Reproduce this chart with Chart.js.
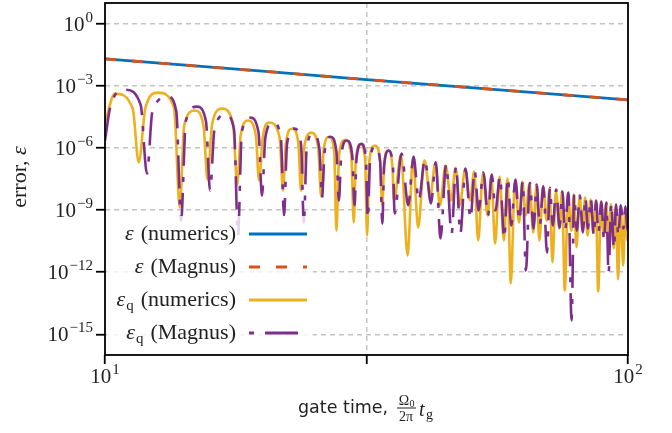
<!DOCTYPE html>
<html>
<head>
<meta charset="utf-8">
<script src="https://cdn.jsdelivr.net/npm/chart.js@4.4.1/dist/chart.umd.min.js"></script>
<style>
    body { margin: 0; background: #fff; }
    #wrap { width: 672px; height: 433px; }
</style>
</head>
<body>
<div id="wrap"><canvas id="mycanvas" width="672" height="433"></canvas></div>
<script>
// gate infidelity eps, full numerics vs Magnus expansion
const tEps = [10, 20, 31.6, 50, 100];
const epsNumerics = [2.0e-2, 5.1e-3, 2.0e-3, 8.2e-4, 2.1e-4];
const epsMagnus = [2.0e-2, 5.1e-3, 2.0e-3, 8.2e-4, 2.1e-4];

// eps_q, numerics: dips, shoulders and lobe tops
const tQNumerics = [10.0, 10.45, 11.3, 11.6, 11.95, 12.63, 13.55, 13.9, 14.17, 14.86, 15.43,
    15.7, 16.03, 16.74, 17.57, 17.9, 18.17, 18.77, 19.43, 19.7, 20.03, 20.6, 21.57,
    21.9, 22.17, 22.8, 23.43, 23.7, 24.03, 24.8, 25.57, 25.9, 26.17, 26.8, 27.43,
    27.7, 28.03, 28.8, 29.57, 29.9, 30.17, 30.8, 31.43, 31.7, 32.03, 32.8, 33.57,
    33.9, 34.17, 34.8, 35.43, 35.7, 36.8, 37.9, 38.8, 39.7, 40.8, 41.9, 42.8, 43.7,
    44.8, 45.9, 46.8, 47.7, 48.8, 49.9, 50.8, 51.7, 52.8, 53.9, 54.8, 55.7, 56.8,
    57.9, 58.8, 59.7, 60.8, 61.9, 62.8, 63.7, 64.8, 65.9, 66.8, 67.7, 68.8, 69.9,
    70.8, 71.7, 72.8, 73.9, 74.8, 75.7, 76.8, 77.9, 78.8, 79.7, 80.8, 81.9, 82.8,
    83.7, 84.8, 85.9, 86.8, 87.7, 88.8, 89.9, 90.8, 91.7, 92.8, 93.9, 94.8, 95.7,
    96.8, 97.9, 98.8, 99.7, 100];
const epsQNumerics = [1.7e-5, 4.2e-4, 7.9e-5,
    2.0e-7, 8.9e-5, 4.7e-4, 8.9e-5,
    1.3e-9, 1.2e-5, 6.4e-5, 1.2e-5,
    3.0e-8, 1.5e-5, 7.9e-5, 1.5e-5,
    1.7e-8, 4.0e-6, 2.1e-5, 4.0e-6,
    2.7e-8, 3.2e-6, 1.7e-5, 3.2e-6,
    8.8e-9, 1.6e-6, 8.6e-6, 1.6e-6,
    8.8e-9, 1.0e-6, 5.5e-6, 1.0e-6,
    4.5e-9, 6.7e-7, 3.5e-6, 6.7e-7,
    1.0e-10, 4.8e-7, 2.5e-6, 4.8e-7,
    2.5e-10, 2.7e-7, 1.5e-6, 2.7e-7,
    5.9e-11, 2.5e-7, 1.3e-6, 2.5e-7,
    1.7e-9, 1.4e-7, 7.5e-7, 1.4e-7,
    2.9e-9, 4.8e-7, 6.4e-12, 3.4e-7, 1.4e-10, 2.5e-7, 5.0e-9, 1.8e-7, 1.7e-9,
    1.4e-7, 2.9e-9, 1.1e-7, 1.7e-9, 9.1e-8, 2.9e-9, 7.3e-8, 3.4e-11, 5.8e-8,
    5.5e-10, 4.7e-8, 2.4e-11, 4.2e-8, 3.4e-11, 3.3e-8, 2.9e-13, 2.7e-8, 2.5e-10,
    2.4e-8, 5.5e-10, 1.9e-8, 8.3e-11, 1.5e-8, 3.4e-11, 1.4e-8, 3.1e-10, 1.1e-8,
    3.0e-12, 8.8e-9, 1.3e-10, 7.9e-9, 1.3e-13, 6.3e-9, 1.0e-10, 5.6e-9, 1.6e-11,
    4.5e-9, 1.0e-10, 4.0e-9, 5.9e-11, 3.2e-9, 8.3e-11, 2.9e-9, 1.2e-13, 2.6e-9,
    5.9e-11, 2.1e-9, 3.4e-11, 1.9e-9, 1.4e-11, 1.7e-9, 4.5e-13, 1.5e-9, 2.1e-12,
    1.3e-9, 3.4e-11, 7.6e-10];

// eps_q, Magnus
const tQMagnus = [10.0, 10.25, 10.92, 11.7, 12.03, 12.32, 13.2, 13.69, 13.98, 14.27, 14.99,
    15.6, 15.88, 16.19, 17.0, 17.65, 17.96, 18.26, 18.95, 19.66, 19.96, 20.26, 20.96,
    21.69, 21.99, 22.29, 23.0, 23.7, 24.0, 24.3, 25.0, 25.7, 26.0, 26.3, 27.0, 27.7,
    28.0, 28.3, 29.0, 29.7, 30.0, 30.27, 30.9, 31.53, 31.8, 32.12, 32.85, 33.58, 33.9,
    34.18, 34.85, 35.52, 35.8, 36.9, 38.0, 38.9, 39.8, 40.9, 42.0, 42.9, 43.8, 44.9,
    46.0, 46.9, 47.8, 48.9, 50.0, 50.9, 51.8, 52.9, 54.0, 54.9, 55.8, 56.9, 58.0,
    58.9, 59.8, 60.9, 62.0, 62.9, 63.8, 64.9, 66.0, 66.9, 67.8, 68.9, 70.0, 70.9,
    71.8, 72.9, 74.0, 74.9, 75.8, 76.9, 78.0, 78.9, 79.8, 80.9, 82.0, 82.9, 83.8,
    84.9, 86.0, 86.9, 87.8, 88.9, 90.0, 90.9, 91.8, 92.9, 94.0, 94.9, 95.8, 96.9,
    98.0, 98.9, 99.8, 100];
const epsQMagnus = [2.3e-6, 1.1e-4, 6.5e-4, 1.2e-4, 5.8e-8,
    5.7e-5, 3.0e-4, 5.7e-5, 3.1e-10,
    1.9e-5, 9.9e-5, 1.9e-5, 8.8e-9,
    7.7e-6, 4.1e-5, 7.7e-6, 5.9e-11,
    5.5e-6, 2.9e-5, 5.5e-6, 5.0e-9,
    3.2e-6, 1.7e-5, 3.2e-6, 5.5e-10,
    1.6e-6, 8.6e-6, 1.6e-6, 2.5e-10,
    9.3e-7, 4.9e-6, 9.3e-7, 4.0e-9,
    6.7e-7, 3.5e-6, 6.7e-7, 2.9e-9,
    4.3e-7, 2.3e-6, 4.3e-7, 1.7e-9,
    3.1e-7, 1.6e-6, 3.1e-7, 3.9e-10,
    2.2e-7, 1.2e-6, 2.2e-7, 2.2e-10,
    1.4e-7, 7.5e-7, 1.4e-7, 6.8e-10,
    5.4e-7, 1.7e-9, 3.8e-7, 2.9e-9, 2.7e-7, 2.1e-9, 2.0e-7, 4.3e-11, 1.6e-7,
    7.4e-11, 1.3e-7, 7.4e-11, 1.0e-7, 3.9e-10, 8.1e-8, 9.5e-10, 6.5e-8, 5.5e-10,
    5.2e-8, 9.5e-10, 4.2e-8, 4.3e-11, 3.7e-8, 1.8e-10, 3.0e-8, 3.1e-10, 2.4e-8,
    1.2e-12, 2.1e-8, 1.3e-10, 1.7e-8, 1.8e-10, 1.4e-8, 9.0e-12, 1.2e-8, 1.8e-10,
    9.8e-9, 1.4e-10, 7.9e-9, 1.0e-10, 7.0e-9, 4.7e-15, 5.6e-9, 1.0e-10, 5.0e-9,
    8.3e-11, 4.0e-9, 1.3e-10, 3.6e-9, 5.9e-11, 2.9e-9, 8.3e-11, 2.6e-9, 3.4e-11,
    2.3e-9, 8.7e-13, 2.1e-9, 1.4e-11, 1.9e-9, 5.9e-11, 1.7e-9, 1.3e-10, 1.5e-9,
    1.0e-10, 5.5e-10];

const xTickValues = [10, 100];
const xGridValues = [31.62];
const yTickValues = [1, 1e-3, 1e-6, 1e-9, 1e-12, 1e-15];

const legendNames = ['(numerics)', '(Magnus)', '(numerics)', '(Magnus)'];
const legendSubs = ['', '', 'q', 'q'];

const SERIF = '"Liberation Serif", "DejaVu Serif", serif';
const BLUE = '#0072BD', ORANGE = '#D95319', YELLOW = '#EDB120', PURPLE = '#7E2F8E';
const GRID = '#c4c4c4';
const DASH_ORANGE = [11, 16];
const DASH_PURPLE = [33, 11, 5, 11];

function pts(xs, ys) {
    return xs.map(function (x, i) { return { x: x, y: ys[i] } })
}

function expText(v) {
    return String(Math.round(Math.log10(v))).replace('-', '\u2212')
}

// "10" with a raised exponent
function drawPower(ctx, exp, x, y, align) {
    ctx.font = '21px ' + SERIF
    var wb = ctx.measureText('10').width
    ctx.font = '15px ' + SERIF
    var we = ctx.measureText(exp).width
    var left = align === 'right' ? x - wb - we - 1 : x - (wb + we + 1) / 2
    ctx.textAlign = 'left'
    ctx.font = '21px ' + SERIF
    ctx.fillText('10', left, y)
    ctx.font = '15px ' + SERIF
    ctx.fillText(exp, left + wb + 1, y - 9)
}

const decorations = {
    id: 'decorations',
    afterDraw: function (chart) {
        var ctx = chart.ctx
        var area = chart.chartArea
        var xs = chart.scales.x, ys = chart.scales.y
        ctx.save()

        // legend, lower left inside the axes
        ctx.fillStyle = 'rgba(255,255,255,0.8)'
        ctx.fillRect(107, 216, 206, 134)
        var styles = [
            { color: BLUE, dash: [], off: 0 },
            { color: ORANGE, dash: DASH_ORANGE, off: 0 },
            { color: YELLOW, dash: [], off: 0 },
            { color: PURPLE, dash: DASH_PURPLE, off: 44 }
        ]
        for (var i = 0; i < legendNames.length; i++) {
            var y = 234 + i * 33
            ctx.strokeStyle = styles[i].color
            ctx.lineWidth = 2.8
            ctx.setLineDash(styles[i].dash)
            ctx.lineDashOffset = styles[i].off
            ctx.beginPath()
            ctx.moveTo(249, y)
            ctx.lineTo(307, y)
            ctx.stroke()
            ctx.setLineDash([])

            ctx.fillStyle = '#222'
            ctx.textAlign = 'right'
            ctx.font = '22px ' + SERIF
            ctx.fillText(legendNames[i], 236, y + 6)
            var x = 236 - ctx.measureText(legendNames[i]).width - 7
            if (legendSubs[i]) {
                ctx.font = '15px ' + SERIF
                ctx.fillText(legendSubs[i], x, y + 10)
                x -= ctx.measureText(legendSubs[i]).width + 1
            }
            ctx.font = 'italic 22px ' + SERIF
            ctx.fillText('\u03b5', x, y + 6)
        }

        // axes frame
        ctx.strokeStyle = '#000'
        ctx.lineWidth = 1.8
        ctx.strokeRect(area.left, area.top, area.right - area.left, area.bottom - area.top)

        // tick labels
        ctx.fillStyle = '#222'
        yTickValues.forEach(function (v) {
            drawPower(ctx, expText(v), area.left - 12, ys.getPixelForValue(v) + 7, 'right')
        })
        xTickValues.forEach(function (v) {
            drawPower(ctx, expText(v), xs.getPixelForValue(v), 383, 'center')
        })

        // y title
        ctx.save()
        ctx.translate(26, 177)
        ctx.rotate(-Math.PI / 2)
        ctx.font = '22px ' + SERIF
        var w1 = ctx.measureText('error, ').width
        ctx.font = 'italic 22px ' + SERIF
        var w2 = ctx.measureText('\u03b5').width
        ctx.textAlign = 'left'
        ctx.font = '22px ' + SERIF
        ctx.fillText('error, ', -(w1 + w2) / 2, 0)
        ctx.font = 'italic 22px ' + SERIF
        ctx.fillText('\u03b5', -(w1 + w2) / 2 + w1, 0)
        ctx.restore()

        // x title: gate time, Omega_0 / 2pi t_g
        ctx.textAlign = 'left'
        ctx.font = '17.5px "DejaVu Sans", sans-serif'
        ctx.fillText('gate time,', 298, 413)
        ctx.font = '14px ' + SERIF
        ctx.textAlign = 'center'
        ctx.fillText('\u03a9', 404, 405)
        ctx.font = '10px ' + SERIF
        ctx.fillText('0', 412, 407)
        ctx.font = '14px ' + SERIF
        ctx.fillText('2\u03c0', 406, 421)
        ctx.fillRect(397, 407.5, 19, 1)
        ctx.textAlign = 'left'
        ctx.font = 'italic 20px ' + SERIF
        ctx.fillText('t', 419, 416)
        ctx.font = '14px ' + SERIF
        ctx.fillText('g', 426, 419)

        ctx.restore()
    }
}

const ctx = document.getElementById('mycanvas')

const myChart = new Chart(ctx, {
    type: 'line',
    data: {
        datasets: [{
            label: 'eps (numerics)',
            data: pts(tEps, epsNumerics),
            borderColor: BLUE,
            borderWidth: 2.8,
            pointRadius: 0,
            order: 1
        }, {
            label: 'eps (Magnus)',
            data: pts(tEps, epsMagnus),
            borderColor: ORANGE,
            borderWidth: 2.8,
            borderDash: DASH_ORANGE,
            pointRadius: 0,
            order: 0
        }, {
            label: 'eps_q (numerics)',
            data: pts(tQNumerics, epsQNumerics),
            borderColor: YELLOW,
            borderWidth: 2.6,
            pointRadius: 0,
            cubicInterpolationMode: 'monotone',
            order: 3
        }, {
            label: 'eps_q (Magnus)',
            data: pts(tQMagnus, epsQMagnus),
            borderColor: PURPLE,
            borderWidth: 2.6,
            borderDash: DASH_PURPLE,
            pointRadius: 0,
            cubicInterpolationMode: 'monotone',
            order: 2
        }]
    },
    options: {
        responsive: false,
        animation: false,
        events: [],
        layout: { padding: { left: 0, right: 44, top: 3, bottom: 0 } },
        plugins: { legend: { display: false }, tooltip: { enabled: false } },
        scales: {
            x: {
                type: 'logarithmic',
                min: 10,
                max: 100,
                afterBuildTicks: function (scale) {
                    scale.ticks = xTickValues.concat(xGridValues).sort(function (a, b) { return a - b })
                        .map(function (v) { return { value: v } })
                },
                afterFit: function (scale) { scale.height = 78 },
                ticks: { display: false },
                grid: {
                    color: function (c) {
                        return c.tick && xGridValues.indexOf(c.tick.value) >= 0 ? GRID : 'rgba(0,0,0,0)'
                    },
                    lineWidth: 1.5,
                    drawTicks: true,
                    tickLength: 9,
                    tickColor: '#000',
                    tickWidth: 1.8
                },
                border: { display: false, dash: [5, 4] }
            },
            y: {
                type: 'logarithmic',
                min: 1e-16,
                max: 10,
                afterBuildTicks: function (scale) {
                    scale.ticks = yTickValues.map(function (v) { return { value: v } })
                },
                afterFit: function (scale) { scale.width = 105 },
                ticks: { display: false },
                grid: {
                    color: GRID,
                    lineWidth: 1.5,
                    drawTicks: true,
                    tickLength: 9,
                    tickColor: '#000',
                    tickWidth: 1.8
                },
                border: { display: false, dash: [5, 4] }
            }
        }
    },
    plugins: [decorations]
});
</script>
</body>
</html>
